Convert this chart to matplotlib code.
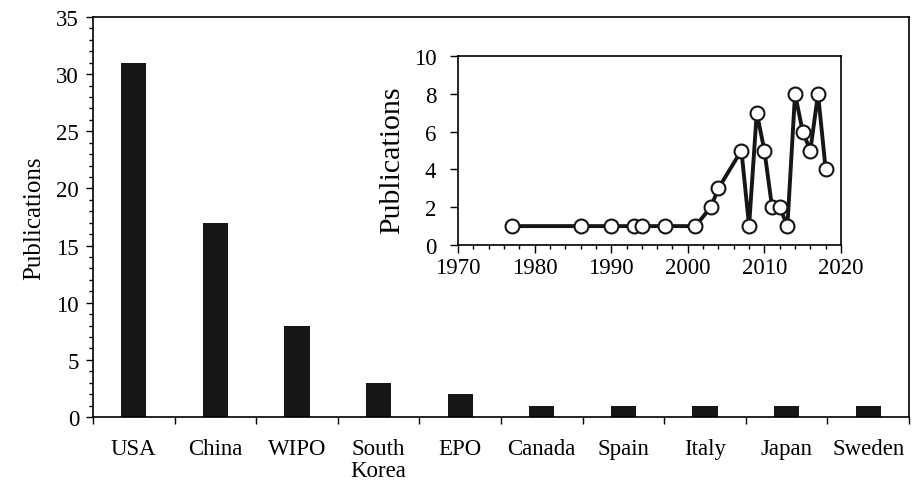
import numpy as np
import matplotlib.pyplot as plt
from matplotlib.ticker import MultipleLocator, FixedLocator

plt.rcParams['font.family'] = ['Liberation Serif', 'DejaVu Serif']
plt.rcParams['font.size'] = 16.5

# bar chart data
countries = ['USA', 'China', 'WIPO', 'South\nKorea', 'EPO', 'Canada',
             'Spain', 'Italy', 'Japan', 'Sweden']
pubs = [31, 17, 8, 3, 2, 1, 1, 1, 1, 1]

# inset: publications per year
years = [1977, 1986, 1990, 1993, 1994, 1997, 2001, 2003, 2004, 2007, 2008,
         2009, 2010, 2011, 2012, 2013, 2014, 2015, 2016, 2017, 2018]
per_year = [1, 1, 1, 1, 1, 1, 1, 2, 3, 5, 1, 7, 5, 2, 2, 1, 8, 6, 5, 8, 4]

fig = plt.figure(figsize=(9.13, 4.85), dpi=100)
ax = fig.add_axes([93 / 913, 1 - 418 / 485, 816 / 913, 400 / 485])

x = np.arange(len(countries))
ax.bar(x, pubs, width=0.31, color='#161616')
ax.set_xlim(-0.5, len(countries) - 0.5)
ax.set_ylim(0, 35)
ax.set_ylabel('Publications', fontsize=18, labelpad=8)

# ticks between the categories, labels centred under the bars
ax.xaxis.set_major_locator(FixedLocator(np.arange(-0.5, len(countries), 1)))
ax.xaxis.set_major_formatter(plt.NullFormatter())
ax.xaxis.set_minor_locator(FixedLocator(x))
ax.set_xticklabels(countries, minor=True, linespacing=1.05)
ax.tick_params(axis='x', which='major', direction='out', length=5, width=1)
ax.tick_params(axis='x', which='minor', length=0, pad=15)
ax.yaxis.set_major_locator(MultipleLocator(5))
ax.yaxis.set_minor_locator(MultipleLocator(1))
ax.tick_params(axis='y', which='major', direction='out', length=5, width=1, pad=5)
ax.tick_params(axis='y', which='minor', direction='out', length=3, width=1)
for s in ax.spines.values():
    s.set_linewidth(1.2)

# inset
ins = fig.add_axes([458 / 913, 1 - 246 / 485, 383 / 913, 189 / 485])
ins.plot(years, per_year, color='#161616', lw=2.8, marker='o', ms=10,
         mfc='white', mec='#161616', mew=1.5)
ins.set_xlim(1970, 2020)
ins.set_ylim(0, 10)
ins.set_ylabel('Publications', fontsize=21.5)
ins.yaxis.set_label_coords(-0.138, 0.455)
ins.xaxis.set_major_locator(MultipleLocator(10))
ins.xaxis.set_minor_locator(MultipleLocator(2))
ins.yaxis.set_major_locator(MultipleLocator(2))
ins.tick_params(which='major', direction='out', length=5.5, width=1)
ins.tick_params(axis='y', which='major', pad=10)
ins.tick_params(which='minor', direction='out', length=3, width=1)
for s in ins.spines.values():
    s.set_linewidth(1.2)

fig.savefig('out.png', dpi=100)
